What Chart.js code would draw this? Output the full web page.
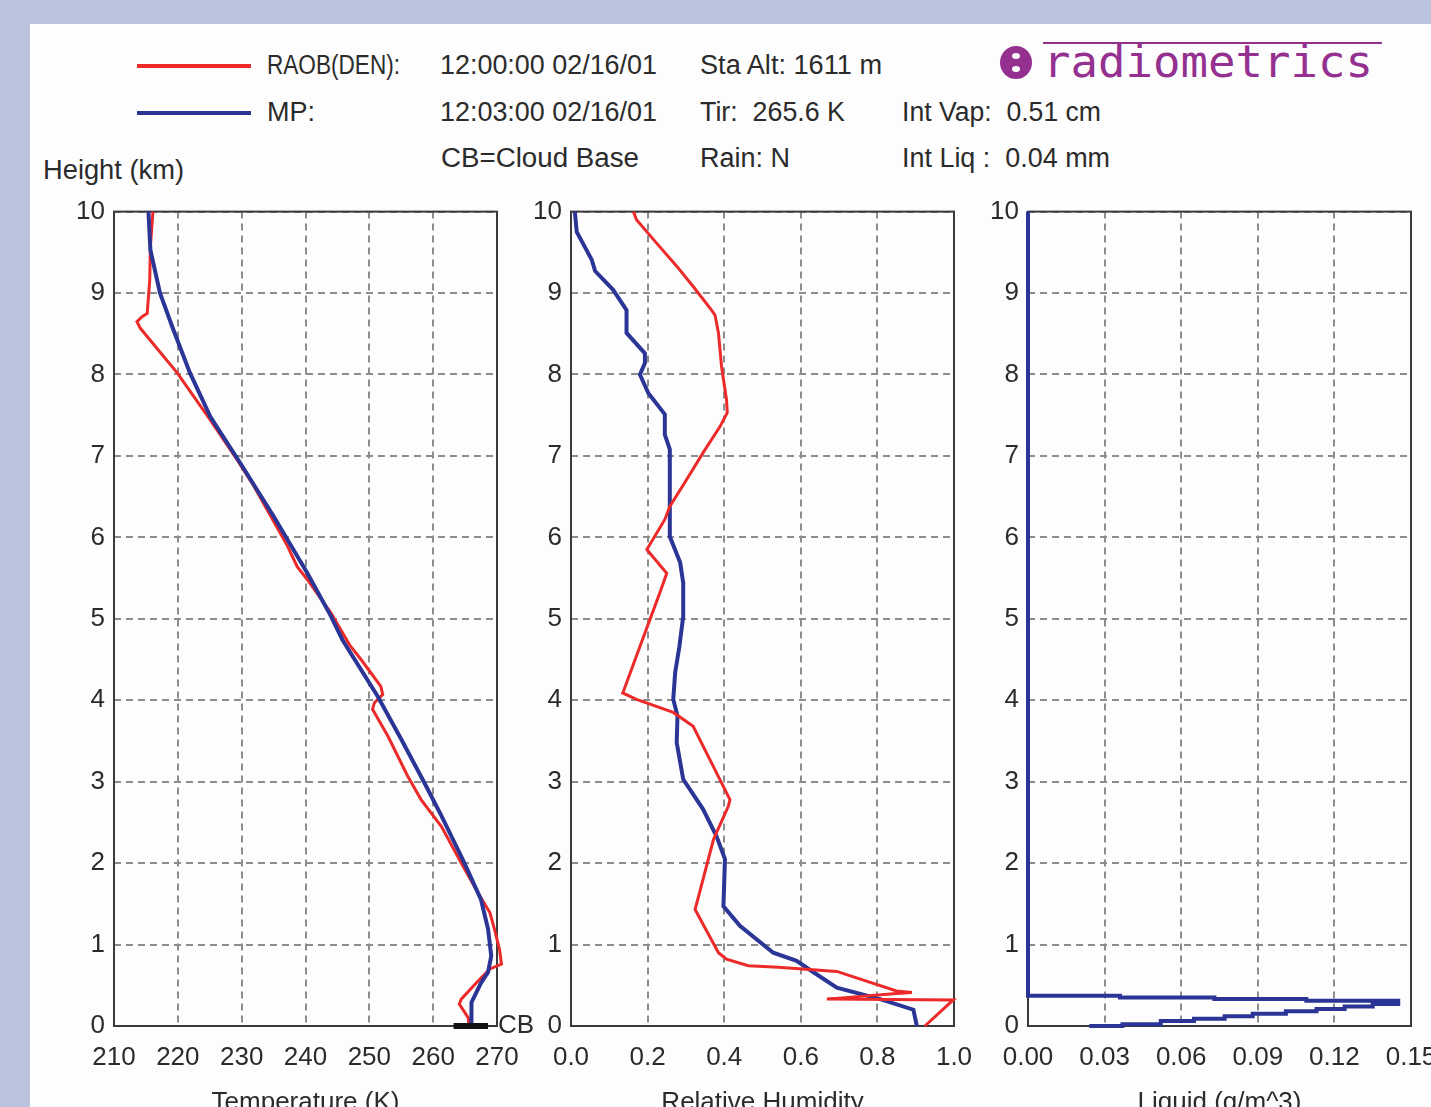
<!DOCTYPE html>
<html>
<head>
<meta charset="utf-8">
<script src="https://cdn.jsdelivr.net/npm/chart.js@4.4.1/dist/chart.umd.min.js"></script>
<style>
  html, body { margin: 0; padding: 0; }
  body { width: 1431px; height: 1107px; overflow: hidden; position: relative;
         background: #bac2de; font-family: "Liberation Sans", Arial, sans-serif; color: #2b2b2b; }
  #panel { position: absolute; left: 30px; top: 24px; width: 1401px; height: 1083px; background: #fdfdfd; }
  .t { position: absolute; font-size: 27px; line-height: 27px; white-space: pre; transform-origin: 0 0; }
  .swatch { position: absolute; left: 137px; width: 114px; height: 4px; }
  canvas { position: absolute; }
  #logo { position: absolute; left: 1043px; top: 40px; font-family: "DejaVu Sans Mono", monospace;
          font-size: 44px; line-height: 44px; color: #94308f; white-space: pre; transform-origin: 0 0; }
  #logoBar { position: absolute; left: 1043px; top: 42px; width: 339px; height: 2px; background: #94308f; }
  #logoDot { position: absolute; left: 1000px; top: 46px; width: 32px; height: 33px; border-radius: 50%; background: #94308f; }
  #logoDot i { position: absolute; left: 12px; width: 8px; height: 6px; border-radius: 50%; background: #fdfdfd; }
</style>
</head>
<body>
<div id="panel"></div>

<div class="swatch" style="top:64px;background:#ec2a2a"></div>
<div class="swatch" style="top:111px;background:#2a3596"></div>

<div class="t" style="left:267px;top:52px" data-w="133">RAOB(DEN):</div>
<div class="t" style="left:440px;top:52px" data-w="217">12:00:00 02/16/01</div>
<div class="t" style="left:700px;top:52px" data-w="182">Sta Alt: 1611 m</div>

<div class="t" style="left:267px;top:99px" data-w="48">MP:</div>
<div class="t" style="left:440px;top:99px" data-w="217">12:03:00 02/16/01</div>
<div class="t" style="left:700px;top:99px" data-w="145">Tir:  265.6 K</div>
<div class="t" style="left:902px;top:99px" data-w="199">Int Vap:  0.51 cm</div>

<div class="t" style="left:441px;top:145px" data-w="198">CB=Cloud Base</div>
<div class="t" style="left:700px;top:145px" data-w="90">Rain: N</div>
<div class="t" style="left:902px;top:145px" data-w="208">Int Liq :  0.04 mm</div>

<div class="t" style="left:43px;top:157px" data-w="141">Height (km)</div>

<div id="logoDot"><i style="top:7px"></i><i style="top:20px"></i></div>
<div id="logoBar"></div>
<div id="logo" data-w="330">radiometrics</div>

<canvas id="tempChart" width="520" height="940" style="left:30px;top:187px"></canvas>
<canvas id="rhChart" width="490" height="940" style="left:520px;top:187px"></canvas>
<canvas id="liqChart" width="500" height="940" style="left:975px;top:187px"></canvas>

<script>
// axis ticks
const heightTicks = [0, 1, 2, 3, 4, 5, 6, 7, 8, 9, 10];
const tempTicks = [210, 220, 230, 240, 250, 260, 270];
const rhTicks = [0, 0.2, 0.4, 0.6, 0.8, 1.0];
const liqTicks = [0, 0.03, 0.06, 0.09, 0.12, 0.15];

// temperature (K) - radiosonde
const raobTempHeight = [10.0, 9.57, 9.16, 8.75, 8.71, 8.65, 8.57, 8.02, 7.44, 6.95, 6.63, 5.89, 5.64, 5.48, 5.07,
  4.68, 4.50, 4.17, 4.07, 3.97, 3.89, 3.56, 3.07, 2.78, 2.45, 2.00, 1.64, 1.39, 1.19, 0.94, 0.76, 0.70, 0.55,
  0.33, 0.27, 0.10, 0.00];
const raobTemp = [216.1, 215.7, 215.6, 215.2, 214.4, 213.6, 214.1, 219.9, 225.1, 229.3, 231.9, 237.2, 238.7, 240.3, 244.0,
  246.9, 248.7, 251.8, 252.1, 250.8, 250.5, 252.9, 256.0, 258.1, 261.3, 264.4, 267.0, 268.9, 269.6, 270.4, 270.7, 268.9, 267.0,
  264.4, 264.1, 265.5, 265.6];

// temperature (K) - microwave profiler
const mpTempHeight = [10.0, 9.53, 9.00, 8.55, 8.02, 7.48, 6.91, 6.26, 5.56, 5.03, 4.74, 4.05, 3.52, 2.99, 2.58,
  2.00, 1.55, 1.19, 0.86, 0.66, 0.53, 0.29, 0.00];
const mpTemp = [215.4, 215.7, 217.2, 219.3, 221.9, 225.1, 229.8, 235.0, 240.3, 244.0, 245.8, 251.3, 255.0, 258.6, 261.3,
  264.9, 267.5, 268.6, 269.1, 268.6, 267.5, 266.0, 266.0];

// cloud base marker
const cloudBaseKm = 0;
const cloudBaseBar = [263.2, 268.6];
const cloudBaseTick = [268.6, 270];

// relative humidity - radiosonde
const raobRhHeight = [10.0, 9.90, 9.61, 9.33, 9.08, 8.79, 8.73, 8.51, 8.10, 7.69, 7.53, 7.36, 7.04, 6.71, 6.38, 6.22,
  5.85, 5.56, 5.32, 4.99, 4.66, 4.11, 4.09, 4.01, 3.85, 3.68, 2.78, 2.70, 2.29, 1.43, 0.90, 0.82, 0.74, 0.72, 0.67,
  0.43, 0.41, 0.40, 0.33, 0.32, 0.00];
const raobRh = [0.163, 0.171, 0.224, 0.276, 0.319, 0.367, 0.376, 0.385, 0.393, 0.406, 0.408, 0.389, 0.345, 0.302, 0.258, 0.245,
  0.198, 0.250, 0.232, 0.206, 0.180, 0.137, 0.135, 0.171, 0.267, 0.319, 0.415, 0.411, 0.372, 0.324, 0.385, 0.406, 0.463, 0.541, 0.694,
  0.850, 0.890, 0.850, 0.668, 0.998, 0.924];

// relative humidity - microwave profiler
const mpRhHeight = [10.0, 9.75, 9.41, 9.27, 9.04, 8.79, 8.51, 8.26, 8.14, 8.00, 7.77, 7.51, 7.26, 7.08, 6.01, 5.69,
  5.44, 5.03, 4.66, 4.34, 4.01, 3.81, 3.48, 3.03, 2.66, 2.33, 2.05, 1.47, 1.23, 0.90, 0.80, 0.66, 0.47, 0.33, 0.20, 0.00];
const mpRh = [0.010, 0.015, 0.054, 0.063, 0.110, 0.145, 0.145, 0.193, 0.193, 0.180, 0.202, 0.245, 0.245, 0.258, 0.258, 0.285,
  0.293, 0.293, 0.283, 0.272, 0.267, 0.278, 0.276, 0.293, 0.345, 0.380, 0.402, 0.398, 0.441, 0.528, 0.589, 0.633, 0.694, 0.807, 0.894, 0.903];

// liquid water (g/m^3) - microwave profiler, stepped levels
const mpLiqHeight = [0.00, 0.02, 0.06, 0.09, 0.12, 0.15, 0.18, 0.21, 0.24, 0.27, 0.29, 0.31, 0.33, 0.35, 0.37, 10.0];
const mpLiq = [0.024, 0.037, 0.052, 0.065, 0.077, 0.088, 0.101, 0.113, 0.124, 0.135, 0.145, 0.145, 0.109, 0.073, 0.036, 0.0];

const FONT = '"Liberation Sans", Arial, sans-serif';
const TEXT = '#2b2b2b';
const RED = '#ec2a2a';
const BLUE = '#2a3596';

// squeeze header text to the widths in the picture
document.querySelectorAll('[data-w]').forEach(el => {
  const r = el.getBoundingClientRect().width;
  el.style.transform = 'scaleX(' + (+el.dataset.w / r) + ')';
});

const pairs = (xs, ys) => xs.map((v, i) => ({ x: v, y: ys[i] }));

function line(label, xs, ys, color, width, extra) {
  return Object.assign({
    label,
    data: pairs(xs, ys),
    showLine: true,
    borderColor: color,
    backgroundColor: color,
    borderWidth: width,
    pointRadius: 0,
    fill: false,
    tension: 0,
    clip: 6
  }, extra || {});
}

const frame = {
  id: 'frame',
  beforeDatasetsDraw(chart) {
    const a = chart.chartArea, ctx = chart.ctx;
    ctx.save();
    ctx.strokeStyle = '#3a3a3a';
    ctx.lineWidth = 2;
    ctx.strokeRect(a.left, a.top, a.right - a.left, a.bottom - a.top);
    ctx.restore();
  }
};

const cbLabel = {
  id: 'cbLabel',
  afterDatasetsDraw(chart) {
    const ctx = chart.ctx;
    ctx.save();
    ctx.font = '26px ' + FONT;
    ctx.fillStyle = TEXT;
    ctx.textAlign = 'left';
    ctx.textBaseline = 'middle';
    ctx.fillText('CB', chart.scales.x.getPixelForValue(270) + 1, chart.scales.y.getPixelForValue(cloudBaseKm));
    ctx.restore();
  }
};

function makeChart(id, yWidth, padRight, datasets, xTicks, digits, xTitle, extraPlugins) {
  return new Chart(document.getElementById(id), {
    type: 'scatter',
    data: { datasets },
    options: {
      responsive: false,
      animation: false,
      events: [],
      layout: { padding: { top: 18, right: padRight, bottom: 0, left: 0 } },
      plugins: { legend: { display: false }, tooltip: { enabled: false } },
      scales: {
        x: {
          type: 'linear',
          min: xTicks[0],
          max: xTicks[xTicks.length - 1],
          afterBuildTicks: s => { s.ticks = xTicks.map(v => ({ value: v })); },
          afterFit: s => { s.height = 101; },
          grid: { color: '#8d8d8d', lineWidth: 2, drawTicks: false },
          border: { display: false, dash: [7, 5] },
          ticks: {
            padding: 16, color: TEXT, font: { family: FONT, size: 26 },
            maxRotation: 0, autoSkip: false,
            callback: v => Number(v).toFixed(digits)
          },
          title: {
            display: true, text: xTitle, color: TEXT,
            font: { family: FONT, size: 26 }, padding: { top: 0, bottom: 9 }
          }
        },
        y: {
          type: 'linear',
          min: 0,
          max: 10,
          afterBuildTicks: s => { s.ticks = heightTicks.map(v => ({ value: v })); },
          afterFit: s => { s.width = yWidth; },
          grid: { color: '#8d8d8d', lineWidth: 2, drawTicks: false },
          border: { display: false, dash: [7, 5] },
          ticks: { padding: 9, color: TEXT, font: { family: FONT, size: 26 }, callback: v => String(v) }
        }
      }
    },
    plugins: [frame].concat(extraPlugins || [])
  });
}

makeChart('tempChart', 84, 53, [
  line('CB', cloudBaseBar, [cloudBaseKm, cloudBaseKm], '#111111', 6, { clip: false }),
  line('CB tick', cloudBaseTick, [cloudBaseKm, cloudBaseKm], '#333333', 2, { clip: false }),
  line('MP', mpTemp, mpTempHeight, BLUE, 4),
  line('RAOB(DEN)', raobTemp, raobTempHeight, RED, 3)
], tempTicks, 0, 'Temperature (K)', [cbLabel]);

makeChart('rhChart', 51, 56, [
  line('RAOB(DEN)', raobRh, raobRhHeight, RED, 3),
  line('MP', mpRh, mpRhHeight, BLUE, 4)
], rhTicks, 1, 'Relative Humidity');

makeChart('liqChart', 53, 64, [
  line('MP', mpLiq, mpLiqHeight, BLUE, 4, { stepped: 'before' })
], liqTicks, 2, 'Liquid (g/m^3)');
</script>
</body>
</html>
